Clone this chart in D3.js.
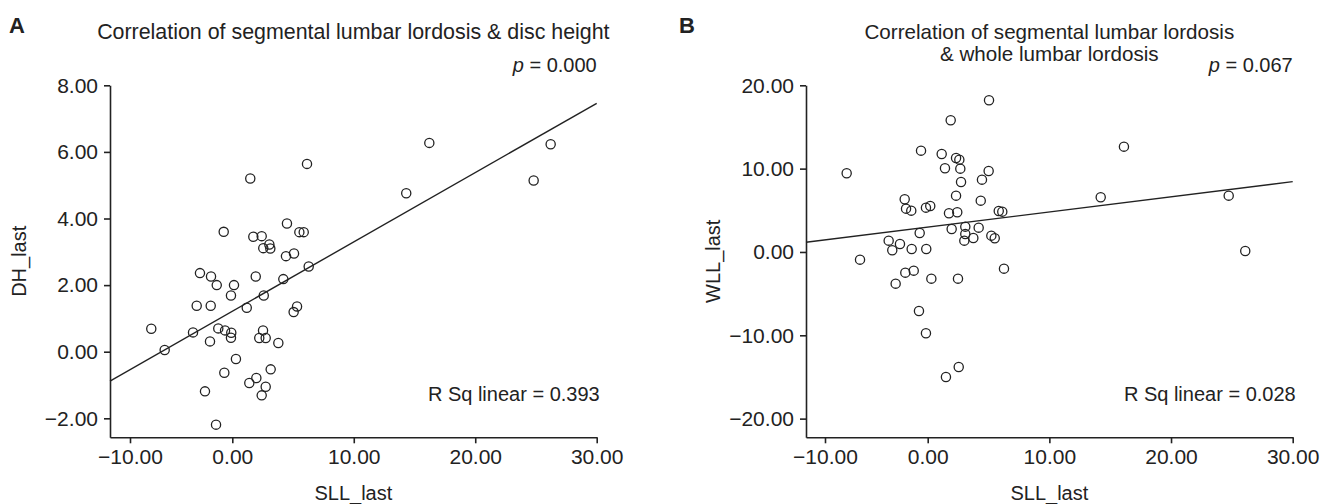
<!DOCTYPE html>
<html><head><meta charset="utf-8">
<script src="https://cdn.jsdelivr.net/npm/d3@7"></script>
<style>
body{margin:0;background:#fff}
text{font-family:"Liberation Sans",Arial,sans-serif;fill:#222}
</style>
</head><body>
<svg id="c" width="1332" height="504"></svg>
<script>
// ---- data ----
const xTicks = [-10, 0, 10, 20, 30];
const yTicksA = [-2, 0, 2, 4, 6, 8];
const yTicksB = [-20, -10, 0, 10, 20];
// x-axis breakpoints (the printed axis spaces -10..0 tighter than 0..30)
const xBreaks = [-11.95, -10, 0, 30];
const xBreaksB = [-11.85, -10, 0, 30];

const sllA = [6.15,1.48,-0.84,1.73,2.42,4.50,5.52,5.88,2.55,3.05,3.13,4.42,5.08,6.29,-3.16,-2.08,1.93,4.20,-1.52,0.14,-0.13,2.59,-3.48,-2.11,1.19,5.05,5.33,-7.92,-3.84,-1.37,-0.71,-0.10,-0.13,2.53,2.22,2.75,3.79,-2.18,-6.61,0.30,-0.78,3.16,1.98,1.40,2.75,2.42,-2.67,-1.59,16.22,14.32,24.81,26.21];
const dhA  = [5.64,5.20,3.60,3.45,3.47,3.85,3.59,3.59,3.11,3.22,3.10,2.87,2.95,2.56,2.36,2.26,2.26,2.18,2.00,2.00,1.69,1.69,1.38,1.38,1.32,1.19,1.36,0.69,0.58,0.70,0.64,0.57,0.42,0.64,0.41,0.41,0.26,0.31,0.05,-0.22,-0.63,-0.53,-0.79,-0.94,-1.05,-1.31,-1.19,-2.19,6.27,4.76,5.14,6.23];

const sllB = [5.04,1.89,-0.65,1.15,2.33,2.60,1.42,2.68,5.01,-7.89,2.74,4.46,2.33,-2.24,4.36,-2.11,-1.60,-0.17,0.21,1.75,2.43,5.84,6.13,3.09,1.97,4.19,-0.78,3.09,3.01,3.75,5.23,5.51,-3.80,-2.70,-3.45,-1.56,-0.14,-6.59,6.27,-2.18,-1.36,0.30,2.49,-3.12,-0.85,-0.17,2.55,1.50,16.13,14.22,24.74,26.10];
const wllB = [18.20,15.80,12.16,11.76,11.28,11.08,10.04,10.00,9.72,9.44,8.40,8.68,6.76,6.32,6.16,5.20,4.96,5.32,5.52,4.64,4.76,4.92,4.84,3.04,2.76,2.92,2.28,2.16,1.36,1.68,1.96,1.64,1.36,0.96,0.20,0.36,0.36,-0.92,-2.00,-2.48,-2.24,-3.20,-3.20,-3.80,-7.08,-9.76,-13.80,-15.00,12.64,6.56,6.76,0.12];

// fit line end points [x, y]
const fitAx = [-11.95, 30], fitAy = [-0.88, 7.46];
const fitBx = [-11.85, 30], fitBy = [1.16, 8.44];

const panels = [
  {letter:"A", title:["Correlation of segmental lumbar lordosis & disc height"], p:"0.000", r2:"0.393",
   xs:sllA, ys:dhA, yDom:[-2.57, 8], yTicks:yTicksA, xBr:xBreaks, fx:fitAx, fy:fitAy,
   ylab:"DH_last", left:110, xRange:[110,130,232.3,596.7], letterX:9, ylabX:26, titleSize:21.4},
  {letter:"B", title:["Correlation of segmental lumbar lordosis","& whole lumbar lordosis"], p:"0.067", r2:"0.028",
   xs:sllB, ys:wllB, yDom:[-22.24, 20], yTicks:yTicksB, xBr:xBreaksB, fx:fitBx, fy:fitBy,
   ylab:"WLL_last", left:806, xRange:[806,825,927.7,1292.7], letterX:679, ylabX:720, titleSize:20.6}
];

const svg = d3.select("#c");
const yTop = 85.3, yBottom = 437.3;
const fmt = d3.format(".2f");

panels.forEach(P => {
  const x = d3.scaleLinear().domain(P.xBr).range(P.xRange);
  const y = d3.scaleLinear().domain(P.yDom).range([yBottom, yTop]);
  const g = svg.append("g");
  const right = P.xRange[P.xRange.length-1];
  const cx = (P.xRange[0] + right) / 2;

  // axes
  const ax = g.append("g").attr("transform", `translate(0,${yBottom})`)
    .call(d3.axisBottom(x).tickValues(xTicks).tickFormat(fmt).tickSize(6).tickSizeOuter(0).tickPadding(6));
  const ay = g.append("g").attr("transform", `translate(${P.left},0)`)
    .call(d3.axisLeft(y).tickValues(P.yTicks).tickFormat(fmt).tickSize(6).tickSizeOuter(0).tickPadding(6));
  [ax, ay].forEach(a => {
    a.select(".domain").attr("stroke", "#222").attr("stroke-width", 1.6);
    a.selectAll(".tick line").attr("stroke", "#222").attr("stroke-width", 1.6);
    a.selectAll(".tick text").style("font-size", "21px").attr("fill", "#222")
      .style("font-family", '"Liberation Sans",Arial,sans-serif');
  });

  // fit line
  g.append("path")
    .datum(P.fx.map((v, i) => [v, P.fy[i]]))
    .attr("d", d3.line().x(d => x(d[0])).y(d => y(d[1])))
    .attr("fill", "none").attr("stroke", "#222").attr("stroke-width", 1.4);

  // points
  g.selectAll("circle.pt").data(P.xs.map((v, i) => [v, P.ys[i]])).enter()
    .append("circle").attr("class", "pt")
    .attr("cx", d => x(d[0])).attr("cy", d => y(d[1])).attr("r", 4.6)
    .attr("fill", "none").attr("stroke", "#222").attr("stroke-width", 1.3);

  // titles
  g.append("text").attr("x", P.letterX).attr("y", 33).text(P.letter)
    .style("font-size", "22px").style("font-weight", "bold");
  P.title.forEach((t, i) => {
    g.append("text").attr("x", cx).attr("y", 39 + i * 22).attr("text-anchor", "middle")
      .style("font-size", P.titleSize + "px").text(t);
  });
  const pt = g.append("text").attr("x", right).attr("y", 72).attr("text-anchor", "end")
    .style("font-size", "20px");
  pt.append("tspan").style("font-style", "italic").text("p");
  pt.append("tspan").text(" = " + P.p);

  g.append("text").attr("x", right + 3).attr("y", 401).attr("text-anchor", "end")
    .style("font-size", "20px").text("R Sq linear = " + P.r2);

  // axis labels
  g.append("text").attr("x", cx).attr("y", 500).attr("text-anchor", "middle")
    .style("font-size", "20px").text("SLL_last");
  g.append("text").attr("transform", `translate(${P.ylabX},${(yTop + yBottom) / 2}) rotate(-90)`)
    .attr("text-anchor", "middle").style("font-size", "20px").text(P.ylab);
});
</script>
</body></html>
